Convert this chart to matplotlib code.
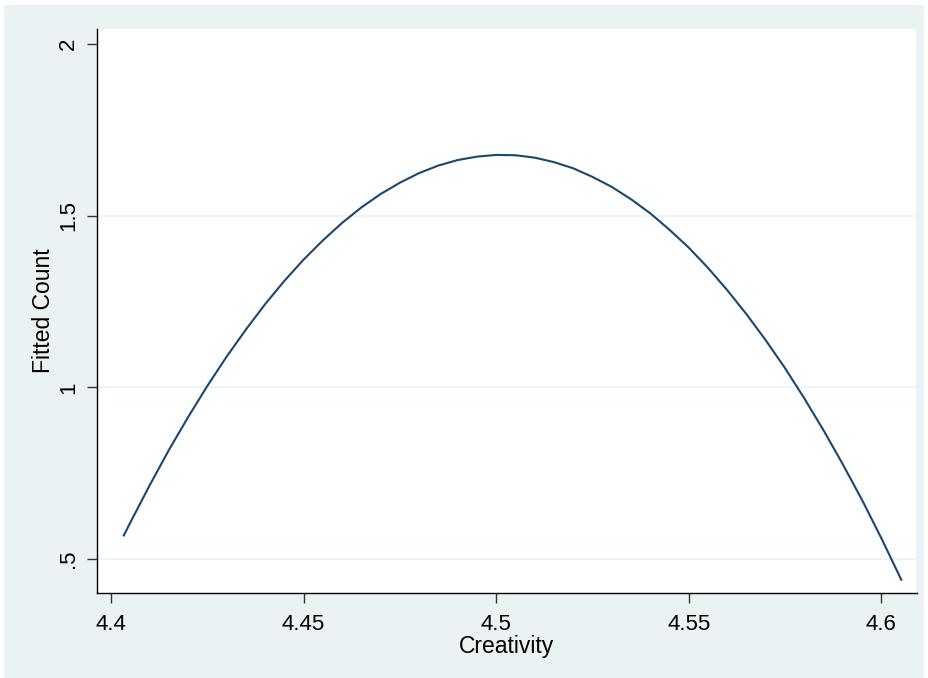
import matplotlib
matplotlib.use("Agg")
import matplotlib.pyplot as plt
from matplotlib.patches import Rectangle

# Data (fitted count vs creativity)
creativity = [4.4032, 4.405, 4.41, 4.415, 4.42, 4.425, 4.43, 4.435, 4.44, 4.445,
              4.45, 4.455, 4.46, 4.465, 4.47, 4.475, 4.48, 4.485, 4.49, 4.495,
              4.50, 4.505, 4.51, 4.515, 4.52, 4.525, 4.53, 4.535, 4.54, 4.545,
              4.55, 4.555, 4.56, 4.565, 4.57, 4.575, 4.58, 4.585, 4.59, 4.595,
              4.60, 4.6053]
fitted_count = [0.566, 0.606, 0.714, 0.817, 0.913, 1.004, 1.089, 1.168, 1.242, 1.310,
                1.372, 1.428, 1.479, 1.524, 1.563, 1.596, 1.624, 1.646, 1.662, 1.672,
                1.677, 1.676, 1.669, 1.656, 1.638, 1.613, 1.584, 1.548, 1.507, 1.459,
                1.407, 1.348, 1.283, 1.213, 1.137, 1.056, 0.968, 0.875, 0.776, 0.672,
                0.561, 0.437]

x_ticks = [4.4, 4.45, 4.5, 4.55, 4.6]
x_tick_labels = ["4.4", "4.45", "4.5", "4.55", "4.6"]
y_ticks = [0.5, 1, 1.5, 2]
y_tick_labels = [".5", "1", "1.5", "2"]
y_grid = [0.5, 1, 1.5]

W, H = 929, 678
bg = "#EAF2F3"
line_color = "#1A476F"

plt.rcParams['font.family'] = ['Liberation Sans', 'DejaVu Sans']

fig = plt.figure(figsize=(W / 100, H / 100), dpi=100, facecolor="white")
fig.patches.append(Rectangle((4 / W, 0), (924.5 - 4) / W, (H - 5) / H,
                             transform=fig.transFigure, facecolor=bg,
                             edgecolor="none", zorder=-10))

ax = fig.add_axes([97 / W, (H - 593) / H, (916.5 - 97) / W, (593 - 29) / H])
ax.set_facecolor("white")

for g in y_grid:
    ax.axhline(g, color=bg, lw=1.2, zorder=1)

ax.plot(creativity, fitted_count, color=line_color, lw=1.5, zorder=3,
        solid_capstyle="butt", solid_joinstyle="round")

ax.set_xlim(4.39636, 4.60914)
ax.set_ylim(0.401, 2.0437)

ax.set_xticks(x_ticks)
ax.set_xticklabels(x_tick_labels)
ax.set_yticks(y_ticks)
ax.set_yticklabels(y_tick_labels, rotation=90, va="center", ha="right")

ax.tick_params(axis="both", length=7, width=1.0, color="#333333",
               labelsize=16, labelcolor="black")
ax.tick_params(axis="x", pad=8)
ax.tick_params(axis="y", pad=6)

for s in ["top", "right"]:
    ax.spines[s].set_visible(False)
for s in ["left", "bottom"]:
    ax.spines[s].set_color("black")
    ax.spines[s].set_linewidth(1.0)

ax.set_xlabel("Creativity", fontsize=16.5)
ax.set_ylabel("Fitted Count", fontsize=16.5)
ax.xaxis.label.set_va("center")
ax.yaxis.label.set_va("center")
ax.xaxis.set_label_coords(0.5, (593 - 646) / (593 - 29))
ax.yaxis.set_label_coords((43 - 97) / (916.5 - 97), 0.5)

fig.savefig("out.png", dpi=100, facecolor="white")
